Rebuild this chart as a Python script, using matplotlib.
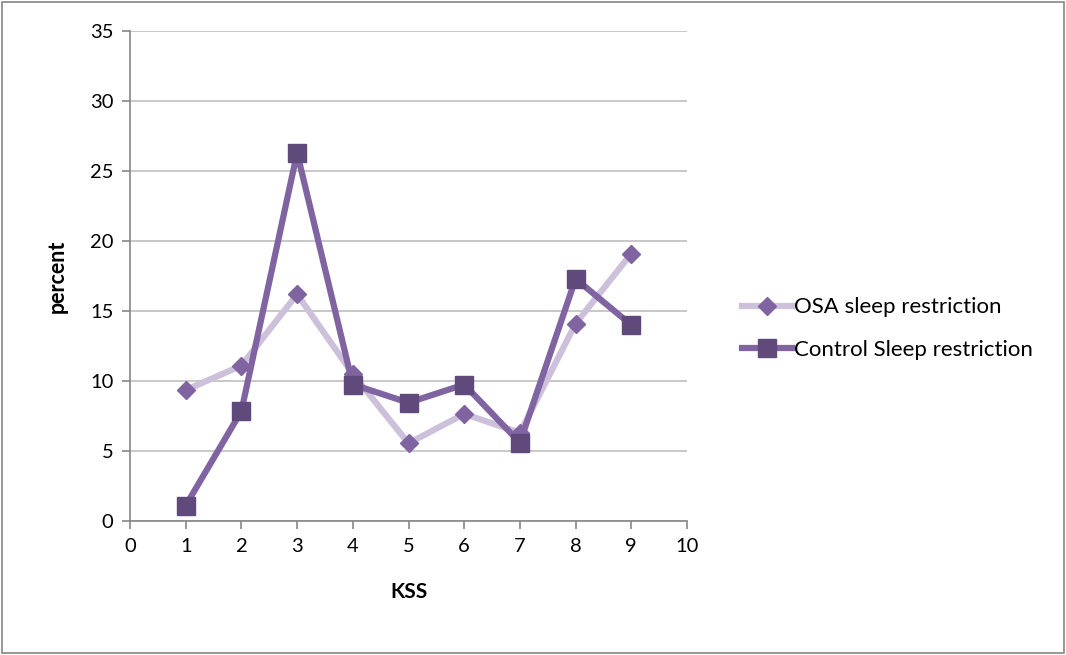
import matplotlib
matplotlib.use('Agg')
import matplotlib.pyplot as plt
from matplotlib.patches import Rectangle

plt.rcParams['font.family'] = ['Lato', 'DejaVu Sans']

kss = [1, 2, 3, 4, 5, 6, 7, 8, 9]
osa = [9.35, 11.1, 16.2, 10.5, 5.55, 7.65, 6.3, 14.1, 19.1]
control = [1.1, 7.85, 26.3, 9.75, 8.45, 9.75, 5.6, 17.3, 14.0]

fig = plt.figure(figsize=(10.66, 6.55), dpi=100)
ax = fig.add_axes([130 / 1066, 134 / 655, 557 / 1066, 490 / 655])

ax.plot(kss, osa, color='#CCC0DA', linewidth=4.5, marker='D', markersize=9,
        markerfacecolor='#8064A2', markeredgecolor='#8064A2',
        label='OSA sleep restriction', zorder=3)
ax.plot(kss, control, color='#8064A2', linewidth=4.5, marker='s', markersize=13,
        markerfacecolor='#604A7B', markeredgecolor='#604A7B',
        label='Control Sleep restriction', zorder=4)

ax.set_xlim(0, 10)
ax.set_ylim(0, 35)
ax.set_xticks(range(0, 11))
ax.set_yticks(range(0, 36, 5))
ax.yaxis.grid(True, color='#BFBFBF', linewidth=1.2)
ax.set_axisbelow(True)
for s in ['top', 'right']:
    ax.spines[s].set_visible(False)
for s in ['left', 'bottom']:
    ax.spines[s].set_color('#868686')
    ax.spines[s].set_linewidth(1.2)
ax.tick_params(axis='both', direction='out', length=6, width=1.2, color='#868686',
               labelsize=14.5, pad=6)
ax.set_xlabel('KSS', fontsize=15, fontweight='bold', labelpad=20)
ax.set_ylabel('percent', fontsize=15.5, fontweight='bold', labelpad=16)

ax.legend(loc='center left', bbox_to_anchor=(1.062, 0.393), frameon=False,
          fontsize=16, handlelength=2.25, handletextpad=0.1, labelspacing=1.0)

fig.patches.append(Rectangle((0.002, 0.003), 0.996, 0.994, transform=fig.transFigure,
                             fill=False, edgecolor='#868686', linewidth=1.2))

fig.savefig('out.png', dpi=100)
